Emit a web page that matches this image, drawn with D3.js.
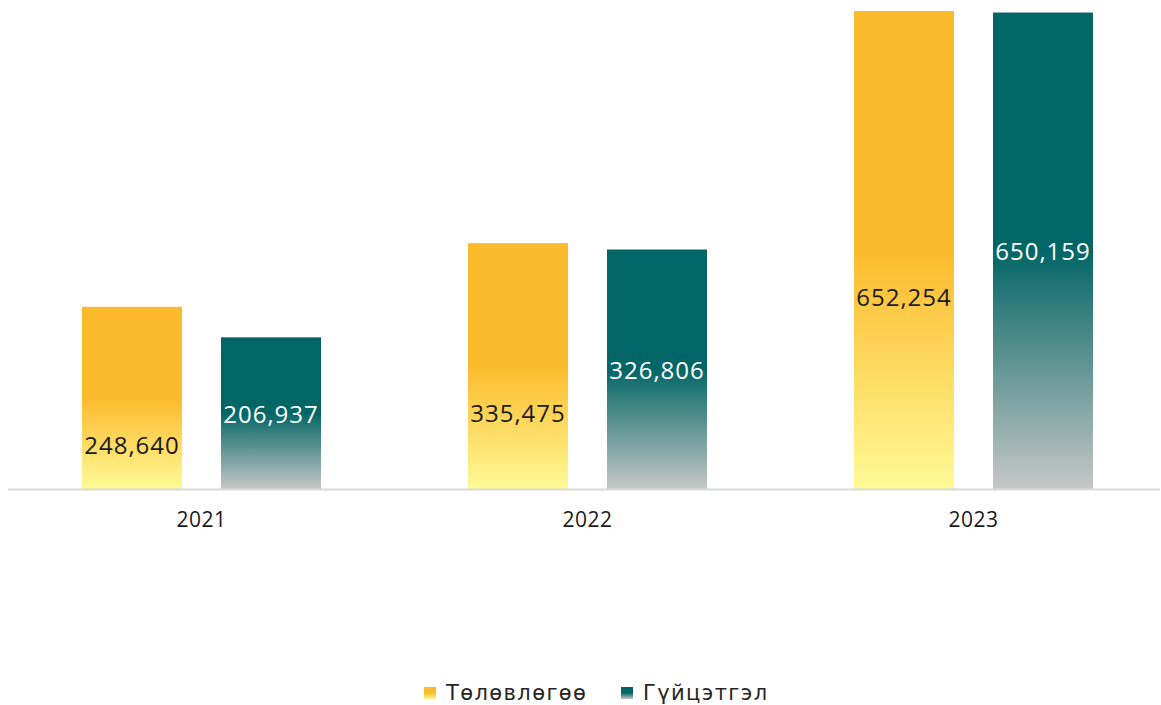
<!DOCTYPE html>
<html>
<head>
<meta charset="utf-8">
<script src="https://cdn.jsdelivr.net/npm/d3@7"></script>
<style>
  html, body { margin: 0; padding: 0; background: #fff; }
  svg { display: block; }
  .valueLabel { font-family: "Open Sans", sans-serif; font-size: 24px; letter-spacing: 1px; }
  .catLabel { font-family: "Open Sans", sans-serif; font-size: 21px; fill: #1a1a1a; letter-spacing: 0.5px; }
  .legendText { font-family: "DejaVu Sans", sans-serif; font-size: 21px; fill: #262626; letter-spacing: 1.4px; }
</style>
</head>
<body>
<svg id="chart" width="1161" height="705"></svg>
<script>
// years on the x axis
const years = ['2021', '2022', '2023'];
// series (legend names in Mongolian)
const seriesNames = ['Төлөвлөгөө', 'Гүйцэтгэл'];
const planValues = [248640, 335475, 652254];
const actualValues = [206937, 326806, 650159];

const BASELINE_Y = 489;
const TOP_Y = 11;

const AXIS_LEFT_PX = 8;
const AXIS_RIGHT_PX = 1160;
const BAND_LEFT_PX = 8.5;
const BAND_RIGHT_PX = 1166.5;

const SOLID = ['#fcba2d', '#036666'];
const LIGHT = ['#fffa96', '#c6c8c6'];
const LABEL_FILL = ['#1a1a1a', '#ffffff'];

const svg = d3.select('#chart');
const defs = svg.append('defs');

// vertical gradients: solid on the upper half, fading to a light tone at the base
seriesNames.forEach((name, i) => {
  const g = defs.append('linearGradient')
    .attr('id', 'grad' + i)
    .attr('x1', 0).attr('y1', 0)
    .attr('x2', 0).attr('y2', 1);
  g.append('stop').attr('offset', '0%').attr('stop-color', SOLID[i]);
  g.append('stop').attr('offset', '50%').attr('stop-color', SOLID[i]);
  g.append('stop').attr('offset', '100%').attr('stop-color', LIGHT[i]);
});

const rows = years.map((year, i) => ({
  year,
  values: [planValues[i], actualValues[i]]
}));

const x0 = d3.scaleBand()
  .domain(years)
  .range([BAND_LEFT_PX, BAND_RIGHT_PX]);

const x1 = d3.scaleBand()
  .domain([0, 1])
  .range([0, x0.bandwidth()])
  .paddingInner(0.2806)
  .paddingOuter(0.5288);

const y = d3.scaleLinear()
  .domain([0, d3.max(planValues.concat(actualValues))])
  .range([BASELINE_Y, TOP_Y]);

const fmt = d3.format(',');

const groups = svg.append('g')
  .selectAll('g')
  .data(rows)
  .join('g')
  .attr('transform', d => `translate(${x0(d.year)},0)`);

const bars = groups.selectAll('g.bar')
  .data(d => d.values.map((v, i) => ({ v, i })))
  .join('g')
  .attr('class', 'bar');

bars.append('rect')
  .attr('x', d => x1(d.i))
  .attr('y', d => y(d.v))
  .attr('width', x1.bandwidth())
  .attr('height', d => BASELINE_Y - y(d.v))
  .attr('fill', d => `url(#grad${d.i})`);

// plan labels sit a bit below the middle, actual labels at the middle
bars.append('text')
  .attr('class', 'valueLabel')
  .attr('x', d => x1(d.i) + x1.bandwidth() / 2)
  .attr('y', d => (y(d.v) + BASELINE_Y) / 2 + (d.i === 0 ? 48 : 1))
  .attr('dy', '0.35em')
  .attr('text-anchor', 'middle')
  .attr('fill', d => LABEL_FILL[d.i])
  .text(d => fmt(d.v));

// baseline
svg.append('line')
  .attr('x1', AXIS_LEFT_PX)
  .attr('x2', AXIS_RIGHT_PX)
  .attr('y1', BASELINE_Y + 0.5)
  .attr('y2', BASELINE_Y + 0.5)
  .attr('stroke', '#d9d9d9')
  .attr('stroke-width', 2);

// category labels
svg.append('g')
  .selectAll('text')
  .data(years)
  .join('text')
  .attr('class', 'catLabel')
  .attr('x', d => x0(d) + x0.bandwidth() / 2)
  .attr('y', 527)
  .attr('text-anchor', 'middle')
  .text(d => d);

// legend
const legend = svg.append('g');
const legendX = [424, 621];
const legendItems = legend.selectAll('g')
  .data(seriesNames)
  .join('g')
  .attr('transform', (d, i) => `translate(${legendX[i]},687)`);

legendItems.append('rect')
  .attr('width', 12)
  .attr('height', 12)
  .attr('fill', (d, i) => `url(#grad${i})`);

legendItems.append('text')
  .attr('class', 'legendText')
  .attr('x', 22)
  .attr('y', 13)
  .text(d => d);
</script>
</body>
</html>
